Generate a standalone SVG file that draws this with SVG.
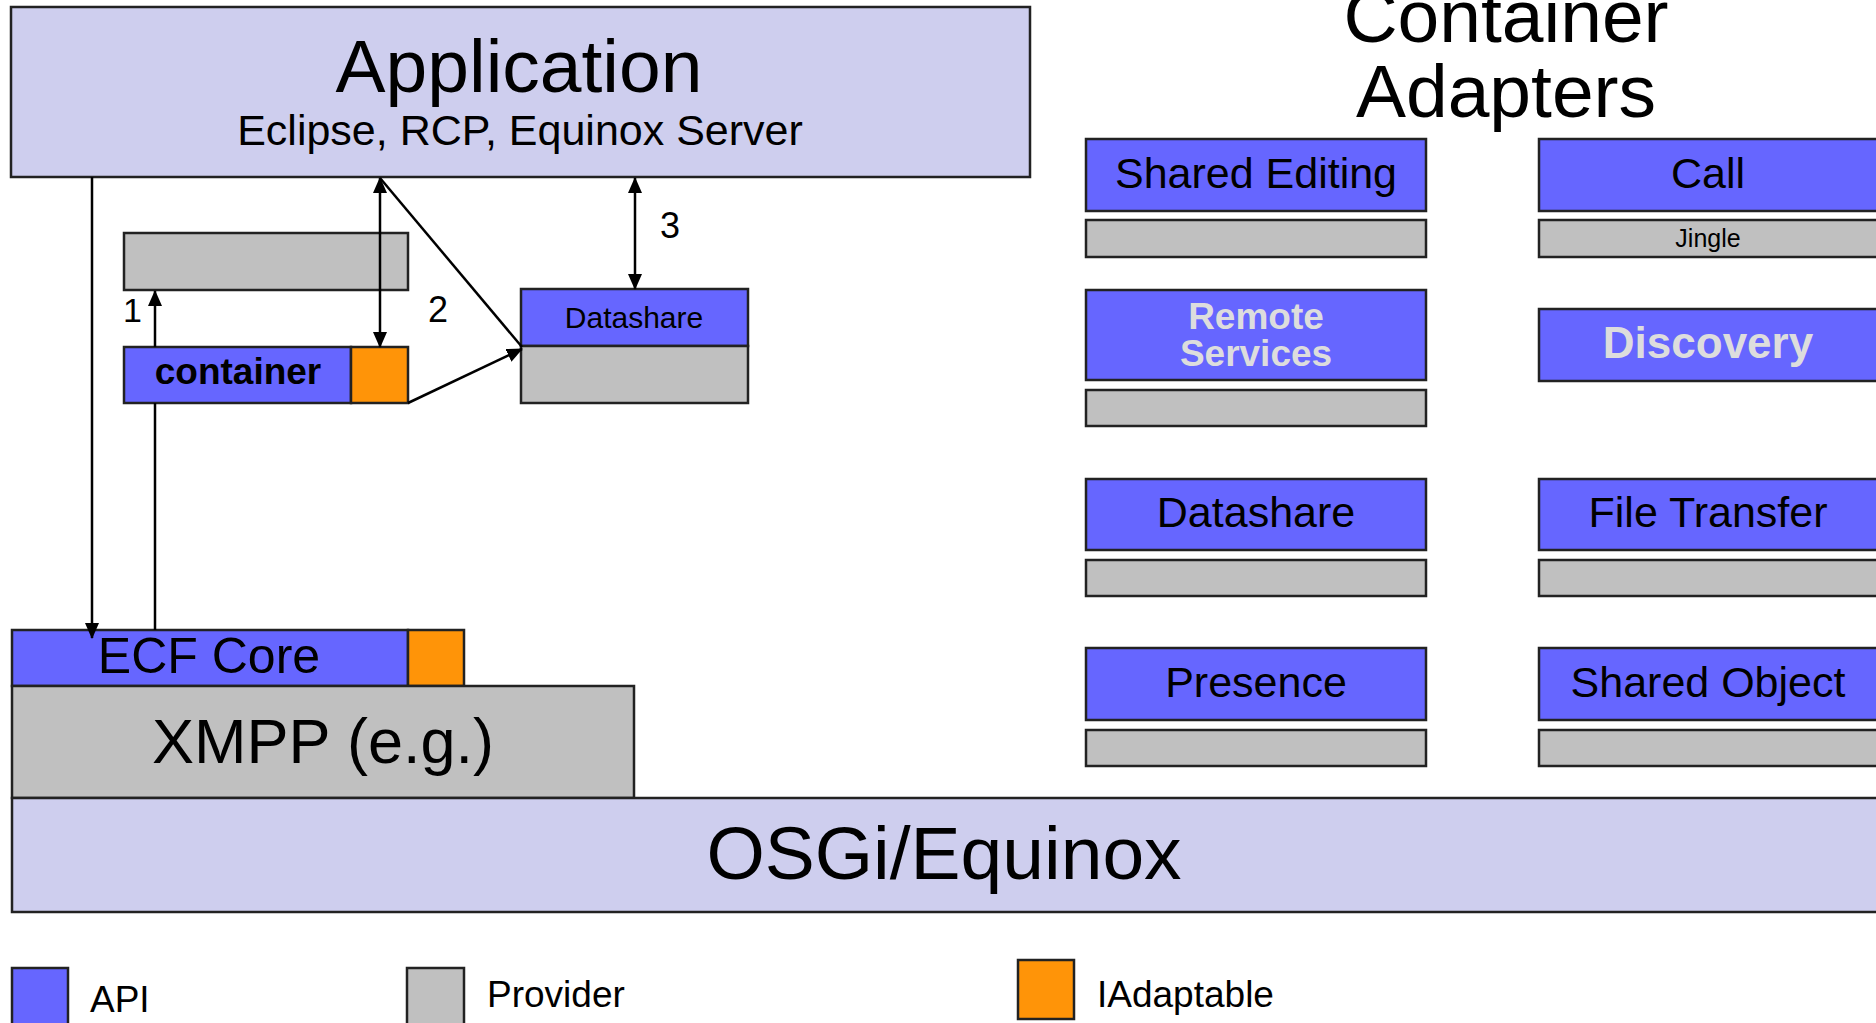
<svg xmlns="http://www.w3.org/2000/svg" width="1876" height="1023" viewBox="0 0 1876 1023">
<defs>
<marker id="ah" markerWidth="16" markerHeight="14" refX="15" refY="7" orient="auto-start-reverse" markerUnits="userSpaceOnUse"><path d="M0,0 L16,7 L0,14 Z" fill="#000"/></marker>
</defs>
<style>
.api{fill:#6666FF;stroke:#222;stroke-width:2.5}
.prov{fill:#C0C0C0;stroke:#222;stroke-width:2.5}
.adapt{fill:#FF9408;stroke:#222;stroke-width:2.5}
.plat{fill:#CECEEE;stroke:#222;stroke-width:2.5}
text{font-family:"Liberation Sans",Arial,Helvetica,sans-serif;fill:#000}
.c{text-anchor:middle}
.lbl{font-size:43px}
.b{font-weight:bold}
.lite{fill:#DDDDDD}
.conn line{stroke:#000;stroke-width:2.5}
</style>
<rect width="1876" height="1023" fill="#fff"/>

<g id="application">
<rect class="plat" x="11" y="7" width="1019" height="170"/>
<text class="c" x="519" y="92" font-size="75">Application</text>
<text class="c lbl" x="520" y="145">Eclipse, RCP, Equinox Server</text>
</g>

<g id="container-adapters-title">
<text class="c" x="1506" y="42" font-size="75">Container</text>
<text class="c" x="1506" y="117" font-size="75">Adapters</text>
</g>

<g id="provider-box">
<rect class="prov" x="124" y="233" width="284" height="57"/>
</g>

<g id="container">
<rect class="api" x="124" y="347" width="227" height="56"/>
<rect class="adapt" x="351" y="347" width="57" height="56"/>
<text class="c b" x="238" y="384" font-size="37">container</text>
</g>

<g id="datashare-small">
<rect class="api" x="521" y="289" width="227" height="57"/>
<rect class="prov" x="521" y="346" width="227" height="57"/>
<text class="c" x="634" y="328" font-size="30">Datashare</text>
</g>

<g id="ecf-core">
<rect class="api" x="12" y="630" width="396" height="56"/>
<rect class="adapt" x="408" y="630" width="56" height="56"/>
<text class="c" x="209" y="673" font-size="50">ECF Core</text>
</g>

<g id="xmpp">
<rect class="prov" x="12" y="686" width="622" height="112"/>
<text class="c" x="323" y="763" font-size="63">XMPP (e.g.)</text>
</g>

<g id="osgi">
<rect class="plat" x="12" y="798" width="1880" height="114"/>
<text class="c" x="944" y="879" font-size="75">OSGi/Equinox</text>
</g>

<g id="shared-editing">
<rect class="api" x="1086" y="139" width="340" height="72"/>
<rect class="prov" x="1086" y="220" width="340" height="37"/>
<text class="c lbl" x="1256" y="188">Shared Editing</text>
</g>

<g id="call">
<rect class="api" x="1539" y="139" width="350" height="72"/>
<rect class="prov" x="1539" y="220" width="350" height="37"/>
<text class="c lbl" x="1708" y="188">Call</text>
<text class="c" x="1708" y="247" font-size="25">Jingle</text>
</g>

<g id="remote-services">
<rect class="api" x="1086" y="290" width="340" height="90"/>
<rect class="prov" x="1086" y="390" width="340" height="36"/>
<text class="c b lite" x="1256" y="329" font-size="37">Remote</text>
<text class="c b lite" x="1256" y="366" font-size="37">Services</text>
</g>

<g id="discovery">
<rect class="api" x="1539" y="309" width="350" height="72"/>
<text class="c b lite" x="1708" y="358" font-size="44">Discovery</text>
</g>

<g id="datashare">
<rect class="api" x="1086" y="479" width="340" height="71"/>
<rect class="prov" x="1086" y="560" width="340" height="36"/>
<text class="c lbl" x="1256" y="527">Datashare</text>
</g>

<g id="file-transfer">
<rect class="api" x="1539" y="479" width="350" height="71"/>
<rect class="prov" x="1539" y="560" width="350" height="36"/>
<text class="c lbl" x="1708" y="527">File Transfer</text>
</g>

<g id="presence">
<rect class="api" x="1086" y="648" width="340" height="72"/>
<rect class="prov" x="1086" y="730" width="340" height="36"/>
<text class="c lbl" x="1256" y="697">Presence</text>
</g>

<g id="shared-object">
<rect class="api" x="1539" y="648" width="350" height="72"/>
<rect class="prov" x="1539" y="730" width="350" height="36"/>
<text class="c lbl" x="1708" y="697">Shared Object</text>
</g>

<g id="legend">
<rect class="api" x="12" y="968" width="56" height="60"/>
<text x="90" y="1012" font-size="37">API</text>
<rect class="prov" x="407" y="968" width="57" height="60"/>
<text x="487" y="1007" font-size="37">Provider</text>
<rect class="adapt" x="1018" y="960" width="56" height="59"/>
<text x="1097" y="1007" font-size="37">IAdaptable</text>
</g>

<g id="connectors" class="conn">
<line x1="92" y1="177" x2="92" y2="638" marker-end="url(#ah)"/>
<line x1="155" y1="630" x2="155" y2="403"/>
<line x1="155" y1="347" x2="155" y2="291" marker-end="url(#ah)"/>
<line x1="380" y1="178" x2="380" y2="347" marker-start="url(#ah)" marker-end="url(#ah)"/>
<line x1="522" y1="347" x2="380" y2="178"/>
<line x1="408" y1="403" x2="522" y2="349" marker-end="url(#ah)"/>
<line x1="635" y1="178" x2="635" y2="289" marker-start="url(#ah)" marker-end="url(#ah)"/>
<text x="123" y="322" font-size="34">1</text>
<text class="c" x="438" y="322" font-size="36">2</text>
<text class="c" x="670" y="238" font-size="36">3</text>
</g>
</svg>
